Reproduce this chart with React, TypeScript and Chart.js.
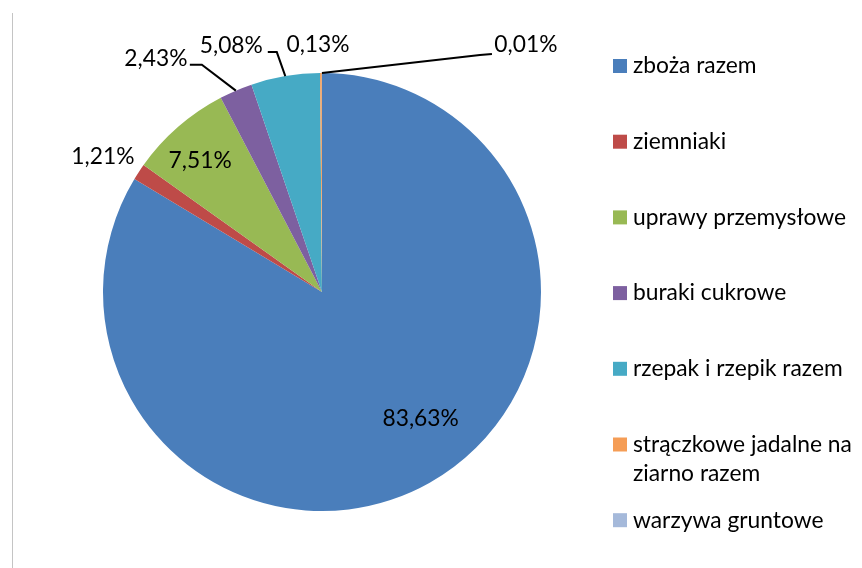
import React, { useEffect, useRef } from "react";
import { Chart, registerables } from "chart.js";

Chart.register(...registerables);

const categories = [
  "zboża razem",
  "ziemniaki",
  "uprawy przemysłowe",
  "buraki cukrowe",
  "rzepak i rzepik razem",
  "strączkowe jadalne na ziarno razem",
  "warzywa gruntowe",
];
const legendLines = [
  ["zboża razem"],
  ["ziemniaki"],
  ["uprawy przemysłowe"],
  ["buraki cukrowe"],
  ["rzepak i rzepik razem"],
  ["strączkowe jadalne na", "ziarno razem"],
  ["warzywa gruntowe"],
];
const shares = [83.63, 1.21, 7.51, 2.43, 5.08, 0.13, 0.01];
const valueLabels = ["83,63%", "1,21%", "7,51%", "2,43%", "5,08%", "0,13%", "0,01%"];
const colors = ["#4A7EBB", "#BE4B48", "#98B954", "#7D60A0", "#46AAC5", "#F59D56", "#A5B9DA"];

// label placement style: radius fraction for anchor, text offset, leader polyline (relative to anchor)
const labelStyle = [
  { r: 0.73, dx: 20, dy: -13, leader: null },
  { r: 1, dx: -36, dy: -15, leader: null },
  { r: 0.75, dx: -14, dy: -7.5, leader: null },
  { r: 1, dx: -80, dy: -32, leader: [[-34, -26], [-46, -26]] },
  { r: 1, dx: -54, dy: -30, leader: [[-8.5, -24], [-17.5, -24]] },
  { r: 1, dx: -3, dy: -28, leader: null },
  { r: 1, dx: 204, dy: -28, leader: [[158, -18], [170, -19]] },
];

const FONT = "Lato, 'Open Sans', sans-serif";
const FONT_SIZE = 22.8;

const labelPlugin = {
  id: "pieLabels",
  afterDraw(chart: any) {
    const ctx = chart.ctx;
    const meta = chart.getDatasetMeta(0);
    ctx.save();
    ctx.font = `${FONT_SIZE}px ${FONT}`;
    ctx.fillStyle = "#000";
    ctx.textAlign = "center";
    ctx.textBaseline = "middle";
    meta.data.forEach((arc: any, i: number) => {
      const st = labelStyle[i];
      const mid = (arc.startAngle + arc.endAngle) / 2;
      const rr = arc.outerRadius * st.r;
      const ax = arc.x + Math.cos(mid) * rr;
      const ay = arc.y + Math.sin(mid) * rr;
      if (st.leader) {
        ctx.beginPath();
        ctx.strokeStyle = "#000";
        ctx.lineWidth = 2;
        ctx.moveTo(ax, ay);
        st.leader.forEach((p: number[]) => ctx.lineTo(ax + p[0], ay + p[1]));
        ctx.stroke();
      }
      ctx.fillText(valueLabels[i], ax + st.dx, ay + st.dy);
    });
    ctx.restore();
  },
};

const legendPlugin = {
  id: "sideLegend",
  afterDraw(chart: any) {
    const ctx = chart.ctx;
    const x0 = 613;
    const y0 = 66;
    const step = 75.7;
    const box = 14;
    ctx.save();
    ctx.font = `${FONT_SIZE}px ${FONT}`;
    ctx.textAlign = "left";
    ctx.textBaseline = "middle";
    legendLines.forEach((lines, i) => {
      const y = y0 + i * step;
      ctx.fillStyle = colors[i];
      ctx.fillRect(x0, y - box / 2, box, box);
      ctx.fillStyle = "#000";
      lines.forEach((t, j) => ctx.fillText(t, x0 + 20, y + j * 29));
    });
    ctx.restore();
  },
};

export default function App() {
  const ref = useRef<HTMLCanvasElement>(null);
  useEffect(() => {
    if (!ref.current) return;
    const chart = new Chart(ref.current, {
      type: "pie",
      data: {
        labels: categories,
        datasets: [
          {
            data: shares,
            backgroundColor: colors,
            borderWidth: 0,
          },
        ],
      },
      options: {
        animation: false,
        responsive: true,
        maintainAspectRatio: false,
        layout: { padding: { left: 103, right: 321, top: 73, bottom: 57 } },
        plugins: {
          legend: { display: false },
          tooltip: { enabled: false },
        },
      },
      plugins: [labelPlugin, legendPlugin],
    });
    return () => chart.destroy();
  }, []);
  return (
    <div style={{ position: "absolute", left: 0, top: 0, width: 862, height: 568, background: "#fff" }}>
      <div
        style={{
          position: "absolute",
          left: 12,
          top: 13,
          height: 555,
          width: 0,
          borderLeft: "1px solid #c4c4c4",
        }}
      />
      <canvas ref={ref} />
    </div>
  );
}
